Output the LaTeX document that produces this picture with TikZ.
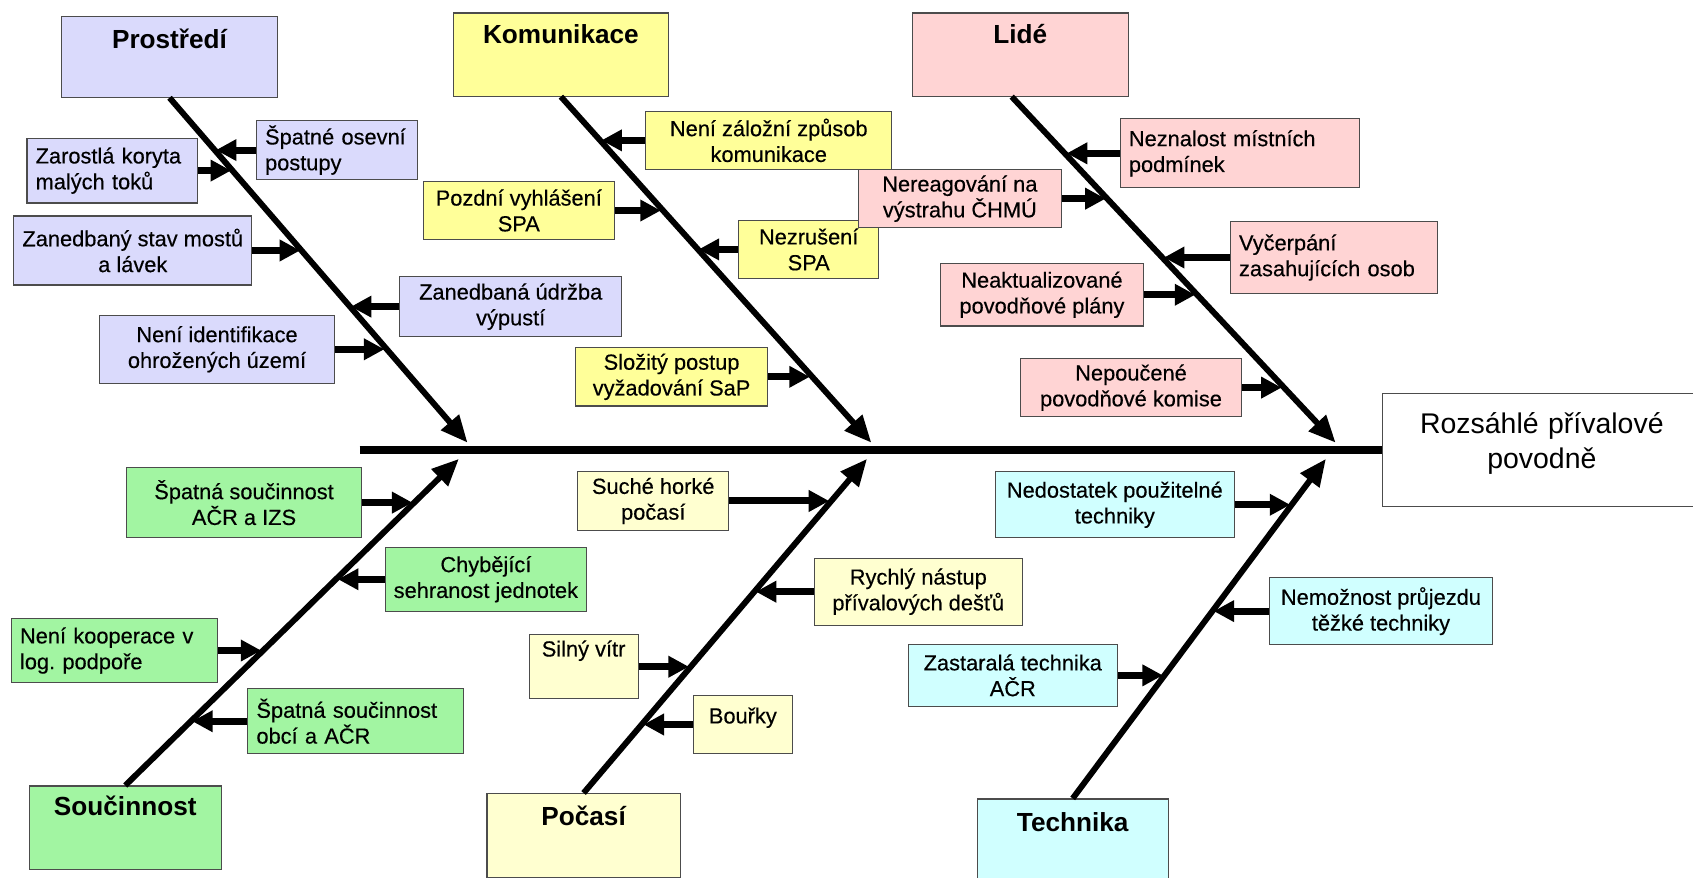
\documentclass[tikz,border=0pt]{standalone}
\usepackage{fontspec}
\setmainfont{Liberation Sans}
\newfontfamily\labelfont{Liberation Sans}[FakeBold=0.35]
\usepackage{tikz}
\usetikzlibrary{arrows.meta}

\definecolor{lavfill}{RGB}{218,218,252}
\definecolor{yelfill}{RGB}{255,255,153}
\definecolor{pinkfill}{RGB}{255,212,212}
\definecolor{grnfill}{RGB}{162,245,162}
\definecolor{creamfill}{RGB}{255,255,208}
\definecolor{cyanfill}{RGB}{208,255,255}

\begin{document}
\begin{tikzpicture}[x=0.02cm,y=-0.02cm,
        box/.style={draw=black!70,line width=0.6pt,inner xsep=0.16cm,inner ysep=0pt,
            font=\labelfont\fontsize{11.5}{13.6}\selectfont},
        leftbox/.style={box,align=left},
        midbox/.style={box,align=center},
        head/.style={draw=black!70,line width=0.6pt,inner sep=0pt,
            font=\bfseries\fontsize{13.8}{16}\selectfont},
        bone/.style={line width=0.11cm,-{Triangle[length=0.5cm,width=0.42cm]}},
        twig/.style={line width=0.13cm,-{Triangle[length=0.38cm,width=0.38cm]}}]
        \useasboundingbox (0,0) rectangle (1568,813);

        % effect and spine
        \node[draw=black!70,line width=0.6pt,inner sep=0pt,text width=5.92cm,align=center,
            text height=0.74cm,text depth=1.36cm,font=\fontsize{15}{18.2}\selectfont]
            (eff) at (1428,417) {Rozsáhlé přívalové\\povodně};
        \coordinate (spst) at (333,417);
        \draw[line width=0.14cm] (spst) -- (eff.west);

        % top heads
        \node[head,fill=lavfill,minimum width=4cm,text height=0.6cm,text depth=0.9cm] (tP) at (157,52.5) {Prostředí};
        \node[head,fill=yelfill,minimum width=3.98cm,text height=0.56cm,text depth=0.98cm] (tK) at (519.5,50.5) {Komunikace};
        \node[head,fill=pinkfill,minimum width=4cm,text height=0.56cm,text depth=0.98cm] (tL) at (945,50.5) {Lidé};
        % bottom heads
        \node[head,fill=grnfill,minimum width=3.56cm,text height=0.54cm,text depth=1cm] (tS) at (116,766.5) {Součinnost};
        \node[head,fill=creamfill,minimum width=3.58cm,text height=0.6cm,text depth=0.96cm] (tC) at (540.5,774) {Počasí};
        \node[head,fill=cyanfill,minimum width=3.54cm,text height=0.6cm,text depth=0.92cm] (tT) at (993.5,778) {Technika};

        \coordinate (tPt) at (433,410);
        \coordinate (tKt) at (807,410);
        \coordinate (tLt) at (1237,410);
        \coordinate (tSt) at (425,425);
        \coordinate (tCt) at (803,425);
        \coordinate (tTt) at (1228,425);
        \draw[bone] (tP.south) -- (tPt);
        \draw[bone] (tK.south) -- (tKt);
        \draw[bone] ([xshift=-0.16cm]tL.south) -- (tLt);
        \draw[bone] (tS.north) -- (tSt);
        \draw[bone] (tC.north) -- (tCt);
        \draw[bone] (tT.north) -- (tTt);

        % prostredi
        \node[leftbox,fill=lavfill,text width=2.84cm,minimum height=1.2cm] (p1) at (104,158) {Zarostlá koryta\\malých toků};
        \node[leftbox,fill=lavfill,text width=2.66cm,minimum height=1.08cm] (p2) at (312,139) {Špatné osevní\\postupy};
        \node[midbox,fill=lavfill,minimum width=4.36cm,minimum height=1.28cm] (p3) at (123,232) {Zanedbaný stav mostů\\a lávek};
        \node[midbox,fill=lavfill,minimum width=4.12cm,minimum height=1.12cm] (p4) at (473,284) {Zanedbaná údržba\\výpustí};
        \node[midbox,fill=lavfill,minimum width=4.36cm,minimum height=1.26cm] (p5) at (201,323.5) {Není identifikace\\ohrožených území};
        \coordinate (p1t) at (214,158);
        \coordinate (p2t) at (200,139);
        \coordinate (p3t) at (278,232);
        \coordinate (p4t) at (325,284);
        \coordinate (p5t) at (356,323.5);
        \draw[twig] (p1.east) -- (p1t);
        \draw[twig] (p2.west) -- (p2t);
        \draw[twig] (p3.east) -- (p3t);
        \draw[twig] (p4.west) -- (p4t);
        \draw[twig] (p5.east) -- (p5t);

        % komunikace
        \node[midbox,fill=yelfill,minimum width=4.56cm,minimum height=1.08cm] (k1) at (712,130) {Není záložní způsob\\komunikace};
        \node[midbox,fill=yelfill,minimum width=3.54cm,minimum height=1.08cm] (k2) at (480.5,195) {Pozdní vyhlášení\\SPA};
        \node[midbox,fill=yelfill,minimum width=2.6cm,minimum height=1.08cm] (k3) at (749,231) {Nezrušení\\SPA};
        \node[midbox,fill=yelfill,minimum width=3.56cm,minimum height=1.08cm] (k4) at (622,349) {Složitý postup\\vyžadování SaP};
        \coordinate (k1t) at (557,130);
        \coordinate (k2t) at (612,195);
        \coordinate (k3t) at (647,231);
        \coordinate (k4t) at (750,349);
        \draw[twig] (k1.west) -- (k1t);
        \draw[twig] (k2.east) -- (k2t);
        \draw[twig] (k3.west) -- (k3t);
        \draw[twig] (k4.east) -- (k4t);

        % lide
        \node[leftbox,fill=pinkfill,text width=4.12cm,minimum height=1.28cm] (l1) at (1148.5,142) {Neznalost místních\\podmínek};
        \node[midbox,fill=pinkfill,minimum width=3.76cm,minimum height=1.08cm] (l2) at (889,184) {Nereagování na\\výstrahu ČHMÚ};
        \node[leftbox,fill=pinkfill,text width=3.52cm,minimum height=1.34cm] (l3) at (1235.5,238.5) {Vyčerpání\\zasahujících osob};
        \node[midbox,fill=pinkfill,minimum width=3.76cm,minimum height=1.16cm] (l4) at (965,273) {Neaktualizované\\povodňové plány};
        \node[midbox,fill=pinkfill,minimum width=4.1cm,minimum height=1.08cm] (l5) at (1047.5,359) {Nepoučené\\povodňové komise};
        \coordinate (l1t) at (988,142);
        \coordinate (l2t) at (1024,184);
        \coordinate (l3t) at (1078,238.5);
        \coordinate (l4t) at (1107,273);
        \coordinate (l5t) at (1187,359);
        \draw[twig] (l1.west) -- (l1t);
        \draw[twig] (l2.east) -- (l2t);
        \draw[twig] (l3.west) -- (l3t);
        \draw[twig] (l4.east) -- (l4t);
        \draw[twig] (l5.east) -- (l5t);

        % soucinnost
        \node[midbox,fill=grnfill,minimum width=4.36cm,minimum height=1.3cm] (s1) at (226,465.5) {Špatná součinnost\\AČR a IZS};
        \node[midbox,fill=grnfill,minimum width=3.72cm,minimum height=1.18cm] (s2) at (450,536.5) {Chybějící\\sehranost jednotek};
        \node[leftbox,fill=grnfill,text width=3.5cm,minimum height=1.18cm] (s3) at (106,602.5) {Není kooperace v\\log.\ podpoře};
        \node[leftbox,fill=grnfill,text width=3.68cm,minimum height=1.2cm] (s4) at (329.5,668) {Špatná součinnost\\obcí a AČR};
        \coordinate (s1t) at (382,465.5);
        \coordinate (s2t) at (313,536.5);
        \coordinate (s3t) at (242,602.5);
        \coordinate (s4t) at (178,668);
        \draw[twig] (s1.east) -- (s1t);
        \draw[twig] (s2.west) -- (s2t);
        \draw[twig] (s3.east) -- (s3t);
        \draw[twig] (s4.west) -- (s4t);

        % pocasi
        \node[midbox,fill=creamfill,minimum width=2.8cm,minimum height=1.08cm] (c1) at (605,464) {Suché horké\\počasí};
        \node[midbox,fill=creamfill,minimum width=3.86cm,minimum height=1.24cm] (c2) at (850.5,548) {Rychlý nástup\\přívalových dešťů};
        \node[box,fill=creamfill,minimum width=2.02cm,text height=0.4cm,text depth=0.78cm] (c3) at (540.5,617.5) {Silný vítr};
        \node[box,fill=creamfill,minimum width=1.84cm,text height=0.52cm,text depth=0.56cm] (c4) at (688,671) {Bouřky};
        \coordinate (c1t) at (768,464);
        \coordinate (c2t) at (700,548);
        \coordinate (c3t) at (638,617.5);
        \coordinate (c4t) at (596,671);
        \draw[twig] (c1.east) -- (c1t);
        \draw[twig] (c2.west) -- (c2t);
        \draw[twig] (c3.east) -- (c3t);
        \draw[twig] (c4.west) -- (c4t);

        % technika
        \node[midbox,fill=cyanfill,minimum width=4.42cm,minimum height=1.22cm] (t1) at (1032.5,467.5) {Nedostatek použitelné\\techniky};
        \node[midbox,fill=cyanfill,minimum width=4.12cm,minimum height=1.24cm] (t2) at (1279,566) {Nemožnost průjezdu\\těžké techniky};
        \node[midbox,fill=cyanfill,minimum width=3.88cm,minimum height=1.14cm] (t3) at (938,625.5) {Zastaralá technika\\AČR};
        \coordinate (t1t) at (1195,467.5);
        \coordinate (t2t) at (1124,566);
        \coordinate (t3t) at (1077,625.5);
        \draw[twig] (t1.east) -- (t1t);
        \draw[twig] (t2.west) -- (t2t);
        \draw[twig] (t3.east) -- (t3t);
    \end{tikzpicture}
\end{document}
